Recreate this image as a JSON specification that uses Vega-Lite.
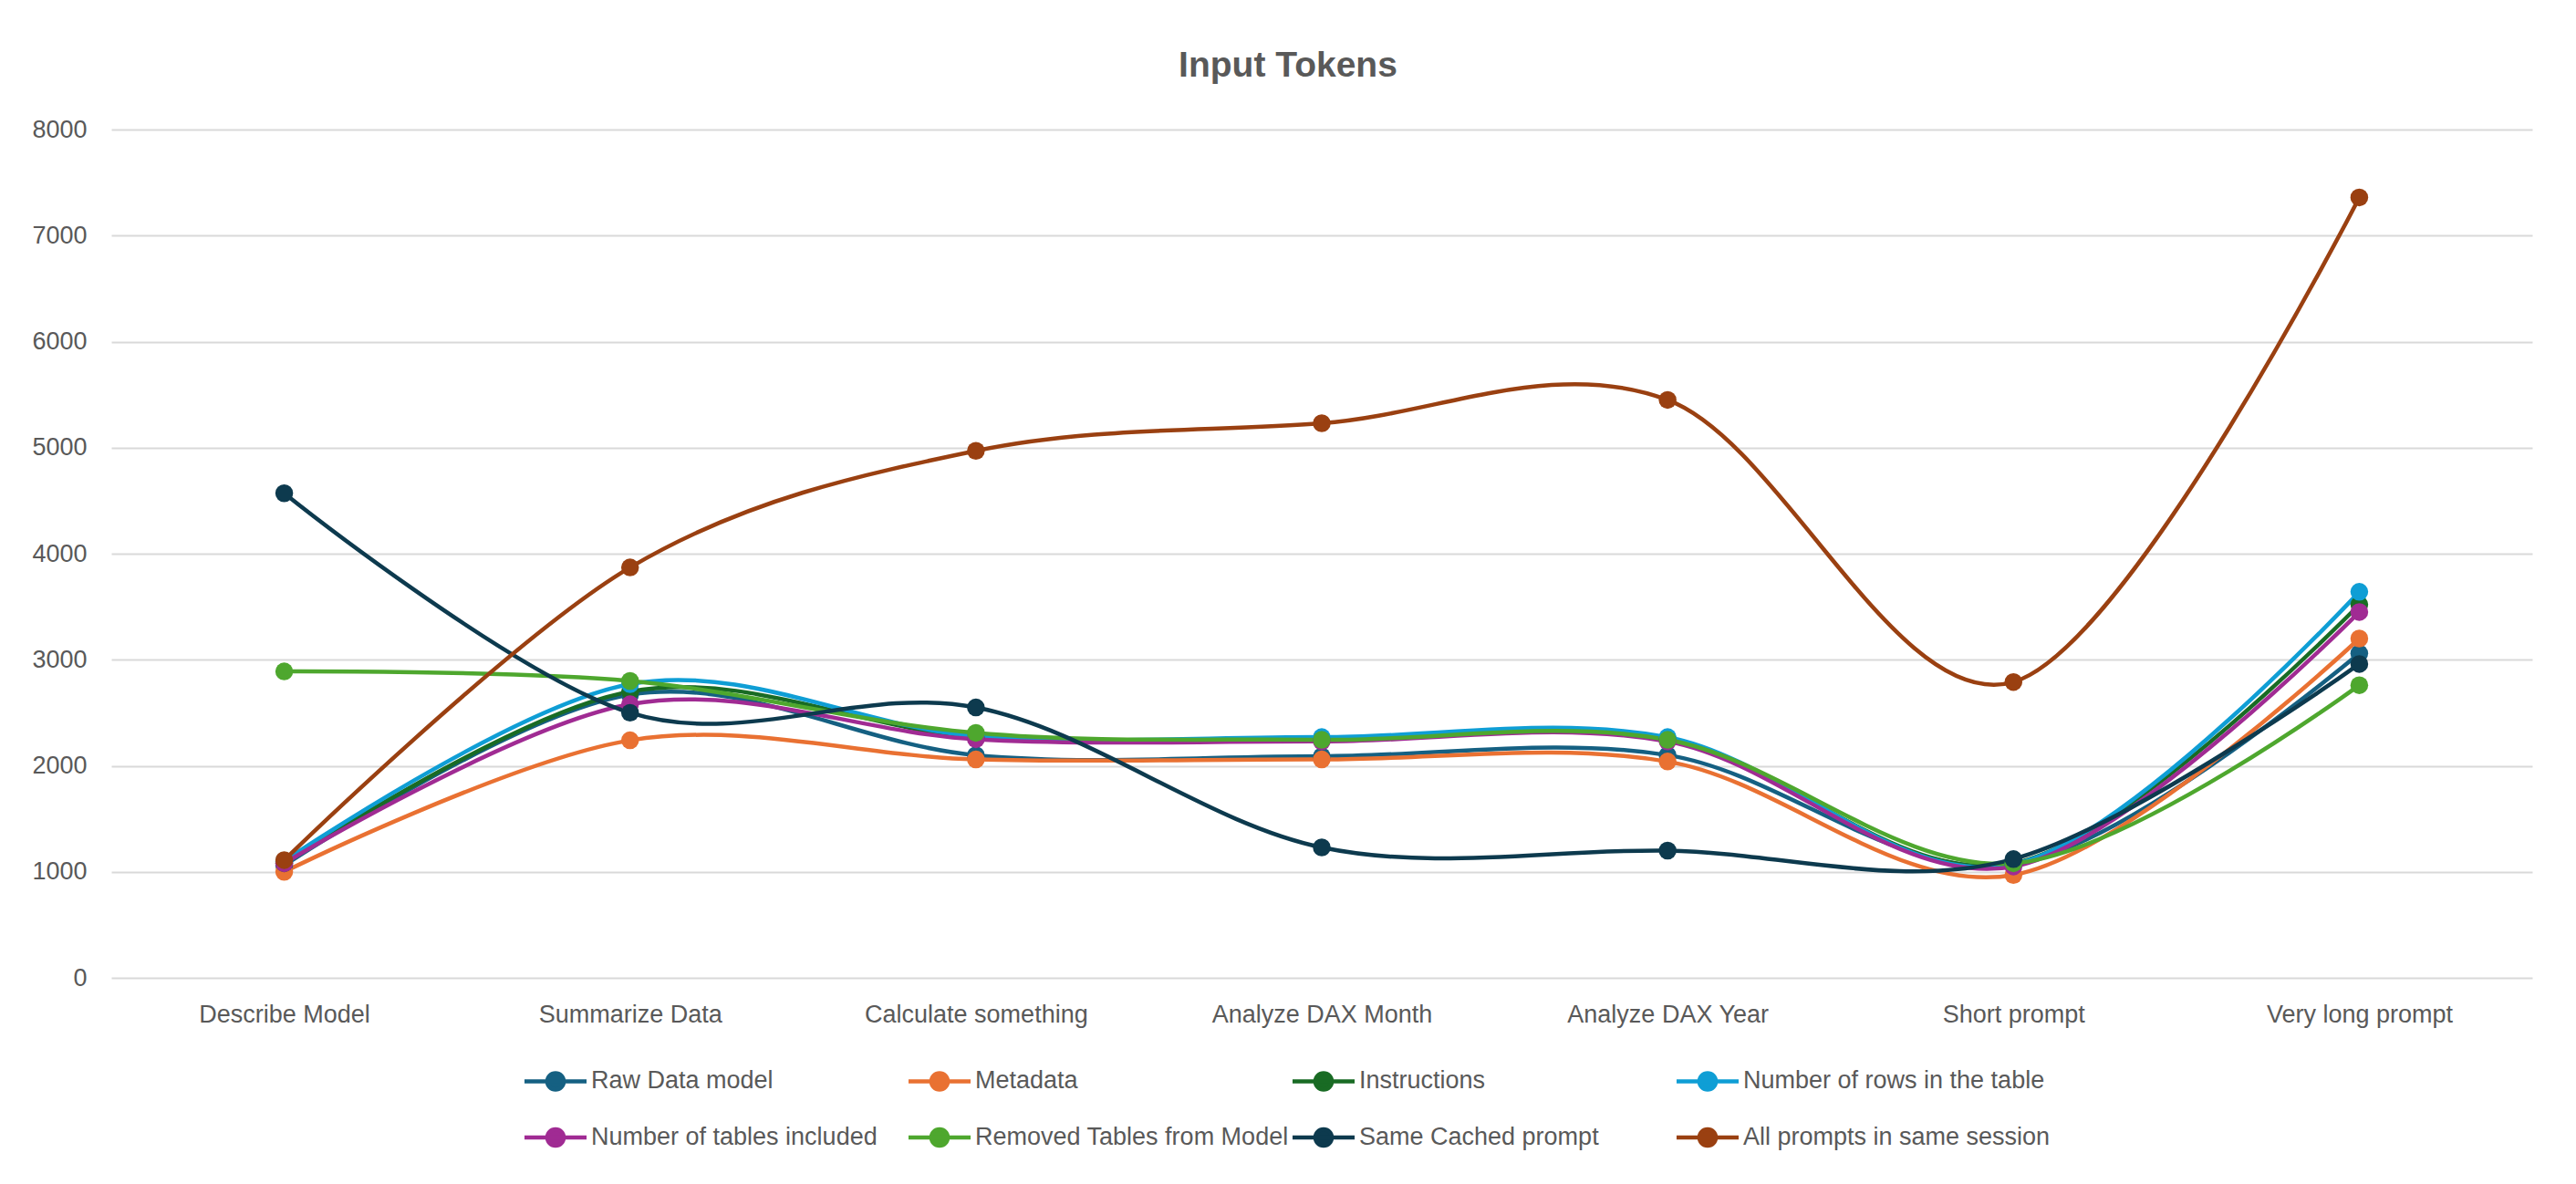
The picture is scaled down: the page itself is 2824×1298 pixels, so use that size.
{
  "$schema": "https://vega.github.io/schema/vega-lite/v6.json",
  "width": 2654,
  "height": 930,
  "autosize": {"type": "none"},
  "padding": {"left": 122, "top": 142, "right": 48, "bottom": 226},
  "background": "white",
  "title": {
    "text": "Input Tokens",
    "fontSize": 39,
    "fontWeight": "bold",
    "color": "#595959",
    "font": "Liberation Sans",
    "anchor": "middle",
    "baseline": "alphabetic",
    "dx": -37,
    "offset": 5
  },
  "data": {
    "values": [
      {"prompt": "Describe Model", "series": "Raw Data model", "tokens": 1060},
      {"prompt": "Summarize Data", "series": "Raw Data model", "tokens": 2670},
      {"prompt": "Calculate something", "series": "Raw Data model", "tokens": 2100},
      {"prompt": "Analyze DAX Month", "series": "Raw Data model", "tokens": 2090},
      {"prompt": "Analyze DAX Year", "series": "Raw Data model", "tokens": 2100},
      {"prompt": "Short prompt", "series": "Raw Data model", "tokens": 1070},
      {"prompt": "Very long prompt", "series": "Raw Data model", "tokens": 3060},
      {"prompt": "Describe Model", "series": "Metadata", "tokens": 1000},
      {"prompt": "Summarize Data", "series": "Metadata", "tokens": 2240},
      {"prompt": "Calculate something", "series": "Metadata", "tokens": 2060},
      {"prompt": "Analyze DAX Month", "series": "Metadata", "tokens": 2060},
      {"prompt": "Analyze DAX Year", "series": "Metadata", "tokens": 2040},
      {"prompt": "Short prompt", "series": "Metadata", "tokens": 970},
      {"prompt": "Very long prompt", "series": "Metadata", "tokens": 3200},
      {"prompt": "Describe Model", "series": "Instructions", "tokens": 1080},
      {"prompt": "Summarize Data", "series": "Instructions", "tokens": 2700},
      {"prompt": "Calculate something", "series": "Instructions", "tokens": 2270},
      {"prompt": "Analyze DAX Month", "series": "Instructions", "tokens": 2240},
      {"prompt": "Analyze DAX Year", "series": "Instructions", "tokens": 2250},
      {"prompt": "Short prompt", "series": "Instructions", "tokens": 1080},
      {"prompt": "Very long prompt", "series": "Instructions", "tokens": 3520},
      {"prompt": "Describe Model", "series": "Number of rows in the table", "tokens": 1100},
      {"prompt": "Summarize Data", "series": "Number of rows in the table", "tokens": 2770},
      {"prompt": "Calculate something", "series": "Number of rows in the table", "tokens": 2280},
      {"prompt": "Analyze DAX Month", "series": "Number of rows in the table", "tokens": 2270},
      {"prompt": "Analyze DAX Year", "series": "Number of rows in the table", "tokens": 2270},
      {"prompt": "Short prompt", "series": "Number of rows in the table", "tokens": 1070},
      {"prompt": "Very long prompt", "series": "Number of rows in the table", "tokens": 3640},
      {"prompt": "Describe Model", "series": "Number of tables included", "tokens": 1080},
      {"prompt": "Summarize Data", "series": "Number of tables included", "tokens": 2580},
      {"prompt": "Calculate something", "series": "Number of tables included", "tokens": 2250},
      {"prompt": "Analyze DAX Month", "series": "Number of tables included", "tokens": 2230},
      {"prompt": "Analyze DAX Year", "series": "Number of tables included", "tokens": 2230},
      {"prompt": "Short prompt", "series": "Number of tables included", "tokens": 1050},
      {"prompt": "Very long prompt", "series": "Number of tables included", "tokens": 3450},
      {"prompt": "Describe Model", "series": "Removed Tables from Model", "tokens": 2890},
      {"prompt": "Summarize Data", "series": "Removed Tables from Model", "tokens": 2800},
      {"prompt": "Calculate something", "series": "Removed Tables from Model", "tokens": 2310},
      {"prompt": "Analyze DAX Month", "series": "Removed Tables from Model", "tokens": 2245},
      {"prompt": "Analyze DAX Year", "series": "Removed Tables from Model", "tokens": 2245},
      {"prompt": "Short prompt", "series": "Removed Tables from Model", "tokens": 1080},
      {"prompt": "Very long prompt", "series": "Removed Tables from Model", "tokens": 2760},
      {"prompt": "Describe Model", "series": "Same Cached prompt", "tokens": 4570},
      {"prompt": "Summarize Data", "series": "Same Cached prompt", "tokens": 2500},
      {"prompt": "Calculate something", "series": "Same Cached prompt", "tokens": 2550},
      {"prompt": "Analyze DAX Month", "series": "Same Cached prompt", "tokens": 1230},
      {"prompt": "Analyze DAX Year", "series": "Same Cached prompt", "tokens": 1200},
      {"prompt": "Short prompt", "series": "Same Cached prompt", "tokens": 1120},
      {"prompt": "Very long prompt", "series": "Same Cached prompt", "tokens": 2960},
      {"prompt": "Describe Model", "series": "All prompts in same session", "tokens": 1110},
      {"prompt": "Summarize Data", "series": "All prompts in same session", "tokens": 3870},
      {"prompt": "Calculate something", "series": "All prompts in same session", "tokens": 4970},
      {"prompt": "Analyze DAX Month", "series": "All prompts in same session", "tokens": 5230},
      {"prompt": "Analyze DAX Year", "series": "All prompts in same session", "tokens": 5450},
      {"prompt": "Short prompt", "series": "All prompts in same session", "tokens": 2790},
      {"prompt": "Very long prompt", "series": "All prompts in same session", "tokens": 7360}
    ]
  },
  "encoding": {
    "x": {
      "field": "prompt",
      "type": "ordinal",
      "sort": ["Describe Model", "Summarize Data", "Calculate something", "Analyze DAX Month", "Analyze DAX Year", "Short prompt", "Very long prompt"],
      "scale": {"type": "point", "padding": 0.5},
      "axis": {
        "title": null,
        "domain": false,
        "ticks": false,
        "tickSize": 0,
        "labelAngle": 0,
        "labelFontSize": 27,
        "labelColor": "#595959",
        "labelPadding": 27,
        "labelBaseline": "top",
        "labelLimit": 600,
        "grid": false
      }
    },
    "y": {
      "field": "tokens",
      "type": "quantitative",
      "scale": {"domain": [0, 8000], "nice": false, "zero": true},
      "axis": {
        "title": null,
        "domain": false,
        "ticks": false,
        "tickSize": 0,
        "values": [0, 1000, 2000, 3000, 4000, 5000, 6000, 7000, 8000],
        "format": "d",
        "labelFontSize": 27,
        "labelColor": "#595959",
        "labelPadding": 27,
        "grid": true,
        "gridColor": "#D9D9D9",
        "gridWidth": 2
      }
    },
    "color": {
      "field": "series",
      "type": "nominal",
      "sort": null,
      "scale": {
        "domain": ["Raw Data model", "Metadata", "Instructions", "Number of rows in the table", "Number of tables included", "Removed Tables from Model", "Same Cached prompt", "All prompts in same session"],
        "range": ["#156082", "#E97132", "#196B24", "#0F9ED5", "#A02B93", "#4EA72E", "#0D3A4E", "#9A4011"]
      },
      "legend": {
        "title": null,
        "orient": "none",
        "legendX": 471,
        "legendY": 1027,
        "direction": "horizontal",
        "columns": 4,
        "gridAlign": "all",
        "columnPadding": -6,
        "rowPadding": 24,
        "padding": 0,
        "labelFontSize": 27,
        "labelColor": "#595959",
        "labelLimit": 600,
        "labelOffset": 23,
        "symbolType": "M-2.52,0L2.52,0M-0.67,0A0.67,0.67,0,1,1,0.67,0A0.67,0.67,0,1,1,-0.67,0Z",
        "symbolSize": 729,
        "symbolStrokeWidth": 4.5,
        "encode": {
          "symbols": {
            "update": {
              "fill": {"scale": "color", "field": "value"},
              "stroke": {"scale": "color", "field": "value"},
              "strokeWidth": {"value": 4.5},
              "opacity": {"value": 1},
              "fillOpacity": {"value": 1},
              "strokeOpacity": {"value": 1}
            }
          }
        }
      }
    }
  },
  "layer": [
    {
      "mark": {"type": "line", "interpolate": "cardinal", "tension": 0, "strokeWidth": 4.5},
      "encoding": {"order": {"value": null}}
    },
    {
      "mark": {"type": "point", "filled": true, "size": 380, "opacity": 1, "shape": "circle"}
    }
  ],
  "config": {
    "font": "Liberation Sans",
    "view": {"stroke": null}
  }
}
